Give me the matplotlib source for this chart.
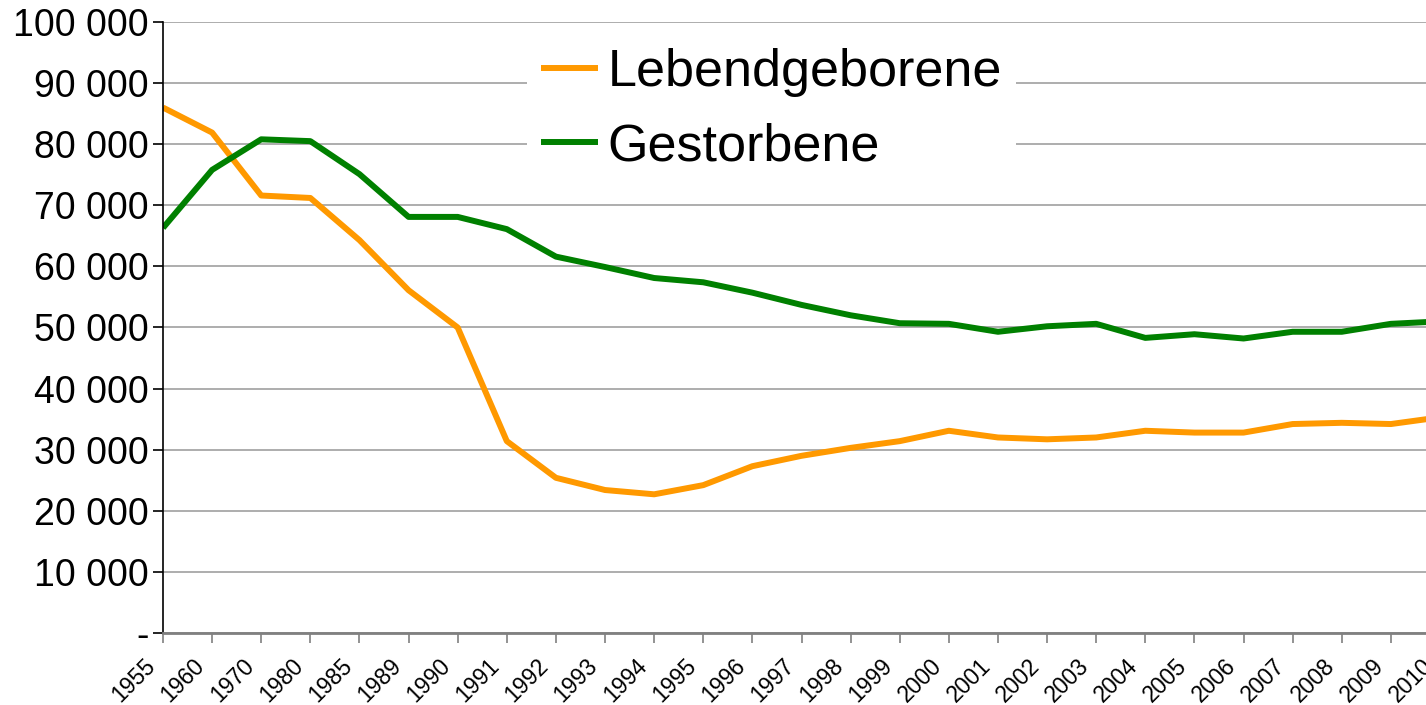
import matplotlib.pyplot as plt
import matplotlib.transforms as mtransforms
from matplotlib.ticker import FuncFormatter

years = ['1955', '1960', '1970', '1980', '1985', '1989', '1990', '1991', '1992',
         '1993', '1994', '1995', '1996', '1997', '1998', '1999', '2000', '2001',
         '2002', '2003', '2004', '2005', '2006', '2007', '2008', '2009', '2010']
lebendgeborene = [86000, 81900, 71600, 71200, 64300, 56100, 50000, 31400, 25400,
                  23400, 22700, 24200, 27300, 29000, 30300, 31400, 33100, 32000,
                  31700, 32000, 33100, 32800, 32800, 34200, 34400, 34200, 35300]
gestorbene = [66300, 75800, 80800, 80500, 75100, 68100, 68100, 66100, 61600,
              59900, 58100, 57400, 55700, 53700, 52000, 50700, 50600, 49300,
              50200, 50600, 48300, 48900, 48200, 49300, 49300, 50600, 51000]

plt.rcParams['font.family'] = ['Liberation Sans', 'DejaVu Sans']

fig = plt.figure(figsize=(14.26, 7.05), dpi=100)
# plot area runs past the right edge, like the cropped original
ax = fig.add_axes([163 / 1426, 72 / 705, 1277 / 1426, 611 / 705])

x = list(range(len(years)))
ax.plot(x, lebendgeborene, color='#FF9900', lw=4.3, label='Lebendgeborene', solid_capstyle='butt')
ax.plot(x, gestorbene, color='#008000', lw=4.3, label='Gestorbene', solid_capstyle='butt')

ax.set_xlim(0, len(years) - 1)
ax.set_ylim(0, 100000)
ax.set_yticks(range(0, 100001, 10000))
ax.yaxis.set_major_formatter(FuncFormatter(
    lambda v, p: '-' if v == 0 else f'{int(v):,}'.replace(',', ' ')))
ax.set_xticks(x)
ax.set_xticklabels(years, rotation=45, ha='right', va='center', rotation_mode='anchor')

ax.grid(axis='y', color='#a0a0a0', lw=1.2)
ax.set_axisbelow(True)
for s in ['top', 'right']:
    ax.spines[s].set_visible(False)
ax.spines['left'].set_color('black')
ax.spines['left'].set_linewidth(1.2)
ax.spines['bottom'].set_color('#808080')
ax.spines['bottom'].set_linewidth(2)

ax.tick_params(axis='y', labelsize=27, length=7, width=1.2, color='black', pad=3)
ax.tick_params(axis='x', labelsize=16.5, length=7, width=1.2, color='#808080', pad=14)

# shift the rotated year labels a bit to the left of their ticks
offset = mtransforms.ScaledTranslation(-11 / 100, 0, fig.dpi_scale_trans)
for lbl in ax.get_xticklabels():
    lbl.set_transform(lbl.get_transform() + offset)

leg = ax.legend(loc='upper left', bbox_to_anchor=(527 / 1426, 1 - 34 / 705),
                bbox_transform=fig.transFigure, fontsize=37.5, frameon=True,
                fancybox=False, edgecolor='none', facecolor='white', framealpha=1,
                handlelength=1.1, handletextpad=0.18, labelspacing=0.48,
                borderpad=0.27, borderaxespad=0)

fig.savefig('out.png', dpi=100)
